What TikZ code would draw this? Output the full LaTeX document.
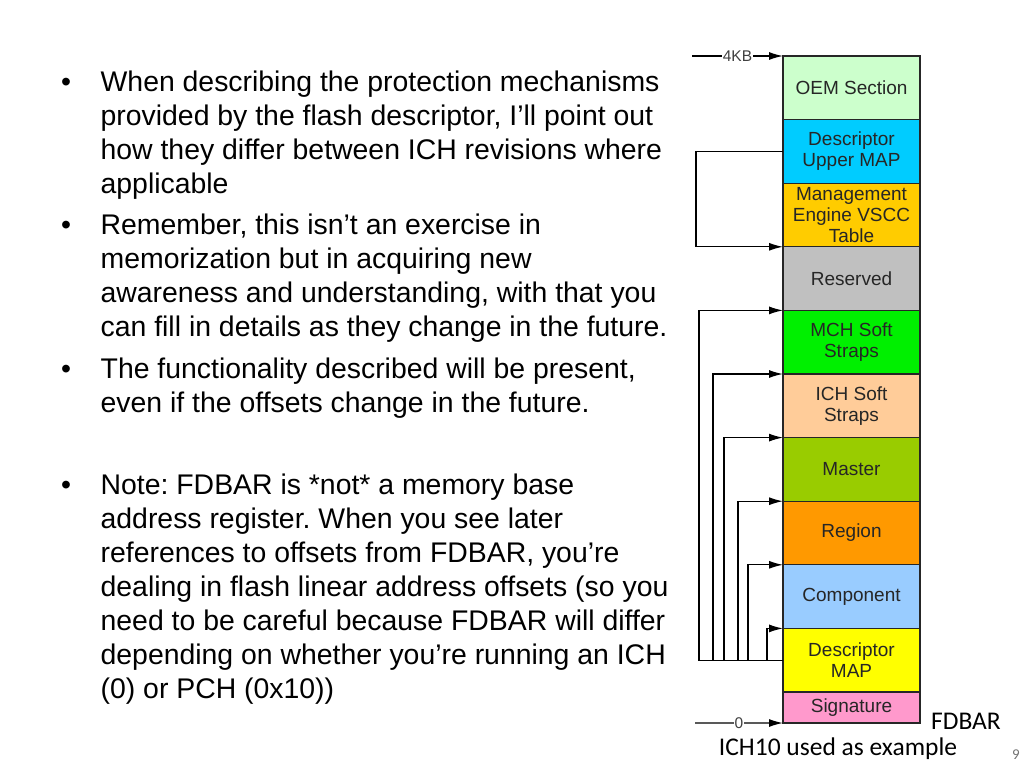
\documentclass[tikz,border=0pt]{standalone}
\usepackage{fontspec}
\setmainfont{Liberation Sans}
\newfontfamily\calibri{Carlito}
\usetikzlibrary{positioning,arrows.meta}
\frenchspacing
\definecolor{oemcol}{HTML}{CCFFCC}
\definecolor{dupcol}{HTML}{00CCFF}
\definecolor{mecol}{HTML}{FFCC00}
\definecolor{rescol}{HTML}{C0C0C0}
\definecolor{mchcol}{HTML}{00F000}
\definecolor{ichcol}{HTML}{FFCC99}
\definecolor{mstcol}{HTML}{99CC00}
\definecolor{regcol}{HTML}{FF9900}
\definecolor{cmpcol}{HTML}{99CCFF}
\definecolor{dmapcol}{HTML}{FFFF00}
\definecolor{sigcol}{HTML}{FF99CC}
\begin{document}
\begin{tikzpicture}[x=1pt, y=-1pt, node distance=0pt, >={Latex[length=14pt,width=8pt]}, line width=1.3pt]
	\tikzstyle{blk} = [rectangle, draw=black!85, minimum width=137pt, minimum height=63.6pt, outer sep=0pt, inner sep=1pt, align=center, text=black!85, font=\fontsize{19}{21}\selectfont]
	\tikzstyle{txt} = [anchor=base west, align=left, inner sep=0pt, font=\fontsize{28.4}{34}\selectfont]
	\tikzstyle{dot} = [anchor=base, inner sep=0pt, font=\fontsize{28.4}{34}\selectfont]
	\tikzstyle{tag} = [fill=white, inner sep=1pt, text=black!75, font=\fontsize{15.5}{15.5}\selectfont]
	\useasboundingbox (0,0) rectangle (1024,768);
	% bullets (anchored on their last line)
	\node (b1) [txt] at (100,193.7) {When describing the protection mechanisms\\provided by the flash descriptor, I’ll point out\\how they differ between ICH revisions where\\applicable};
	\node (b2) [txt] at (100,336.7) {Remember, this isn’t an exercise in\\memorization but in acquiring new\\awareness and understanding, with that you\\can fill in details as they change in the future.};
	\node (b3) [txt] at (100,412.7) {The functionality described will be present,\\even if the offsets change in the future.};
	\node (b4) [txt] at (100,698.7) {Note: FDBAR is *not* a memory base\\address register. When you see later\\references to offsets from FDBAR, you’re\\dealing in flash linear address offsets (so you\\need to be careful because FDBAR will differ\\depending on whether you’re running an ICH\\(0) or PCH (0x10))};
	\foreach \y in {91.7,234.7,378.7,494.7}
	\node [dot] at (66,\y) {•};
	% flash layout
	\node (oem) [blk, fill=oemcol, anchor=north west] at (783,56) {OEM Section};
	\node (dup) [blk, fill=dupcol, below=of oem] {Descriptor\\Upper MAP};
	\node (me) [blk, fill=mecol, below=of dup] {Management\\Engine VSCC\\Table};
	\node (res) [blk, fill=rescol, below=of me] {Reserved};
	\node (mch) [blk, fill=mchcol, below=of res] {MCH Soft\\Straps};
	\node (ich) [blk, fill=ichcol, below=of mch] {ICH Soft\\Straps};
	\node (mst) [blk, fill=mstcol, below=of ich] {Master};
	\node (reg) [blk, fill=regcol, below=of mst] {Region};
	\node (cmp) [blk, fill=cmpcol, below=of reg] {Component};
	\node (dmap) [blk, fill=dmapcol, below=of cmp] {Descriptor\\MAP};
	\node (sig) [blk, fill=sigcol, below=of dmap, minimum height=31pt] {Signature};
	\coordinate (kb) at (692,56);
	\coordinate (zero) at (695,723);
	\draw[->] (kb) -- node[tag] {4KB} (oem.north west);
	\draw[->] (zero) -- node[tag] {0} (sig.south west);
	\draw[->] (dup.west) -- ++(-87,0) |- (res.north west);
	\foreach \tgt/\off in {mch/84, ich/70, mst/59, reg/45, cmp/35, dmap/16}
	\draw[->] (dmap.west) -- ++(-\off,0) |- (\tgt.north west);
	\node (fdbar) [font=\calibri\fontsize{25.5}{25.5}\selectfont] at (966,721) {FDBAR};
	\node (note) [font=\calibri\fontsize{25.5}{25.5}\selectfont] at (838,749) {ICH10 used as example};
	\node (page) [font=\calibri\fontsize{15}{15}\selectfont, text=black!55] at (1016,755) {9};
\end{tikzpicture}
\end{document}
